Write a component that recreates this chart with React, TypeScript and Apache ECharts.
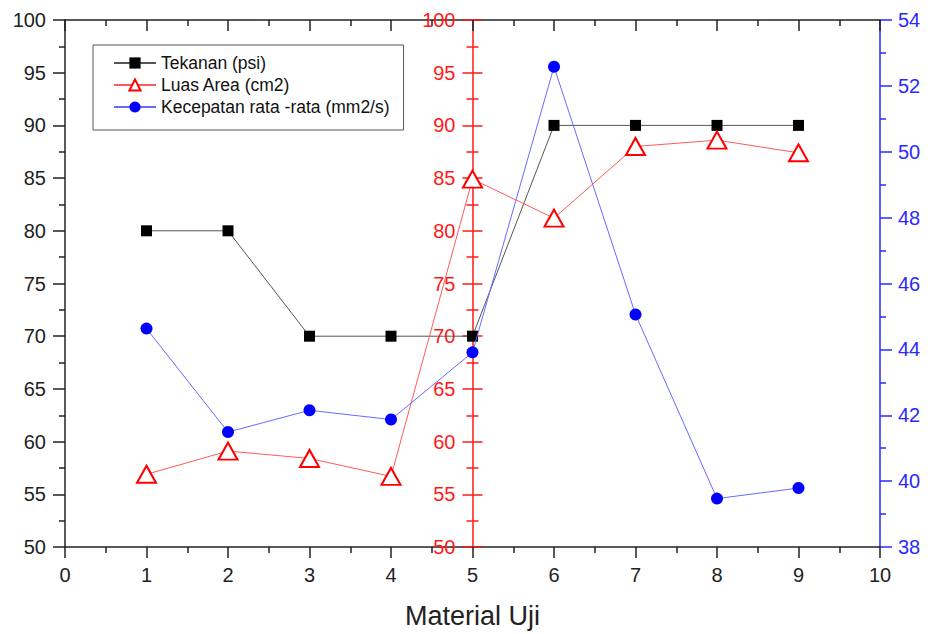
import React, { useEffect, useRef } from "react";
import * as echarts from "echarts";

const xValues = [1, 2, 3, 4, 5, 6, 7, 8, 9];
const tekanan = [80, 80, 70, 70, 70, 90, 90, 90, 90];
const luasArea = [56.9, 59.1, 58.4, 56.7, 84.9, 81.2, 88.0, 88.6, 87.4];
const kecepatan = [44.63, 41.49, 42.15, 41.87, 43.91, 52.58, 45.06, 39.47, 39.79];
const seriesNames = ["Tekanan (psi)", "Luas Area (cm2)", "Kecepatan rata -rata (mm2/s)"];
const xAxisName = "Material Uji";

const FONT = "Liberation Sans, Arial, sans-serif";
const RED = "#ff1a1a";
const BLUE = "#2a2aff";

export default function App() {
  const ref = useRef<HTMLDivElement>(null);
  useEffect(() => {
    if (!ref.current) return;
    const chart = echarts.init(ref.current, undefined, { renderer: "svg" });
    const pair = (ys: number[]) => xValues.map((x, i) => [x, ys[i]]);
    const baseY = {
      type: "value",
      min: 50,
      max: 100,
      interval: 5,
      splitLine: { show: false },
      minorTick: { show: true, splitNumber: 2 },
    };
    chart.setOption({
      animation: false,
      backgroundColor: "#ffffff",
      textStyle: { fontFamily: FONT },
      grid: { left: 65, right: 50, top: 20, bottom: 80, containLabel: false },
      legend: {
        orient: "vertical",
        left: 93,
        top: 45,
        padding: [9, 14, 14, 20],
        borderColor: "#555",
        borderWidth: 1,
        itemWidth: 42,
        itemHeight: 14,
        itemGap: 4,
        textStyle: { fontSize: 17.5, color: "#111", fontFamily: FONT, lineHeight: 18 },
        data: seriesNames,
      },
      xAxis: [
        {
          type: "value",
          min: 0,
          max: 10,
          interval: 1,
          position: "bottom",
          name: xAxisName,
          nameLocation: "middle",
          nameGap: 55,
          nameTextStyle: { fontSize: 27, color: "#222", fontFamily: FONT },
          axisLine: { lineStyle: { color: "#222", width: 1.5 } },
          axisTick: { length: 11, lineStyle: { color: "#222", width: 1.5 } },
          minorTick: { show: true, splitNumber: 2, length: 6, lineStyle: { color: "#222", width: 1.5 } },
          axisLabel: { fontSize: 20, color: "#222", margin: 18, fontFamily: FONT },
          splitLine: { show: false },
        },
        {
          type: "value",
          min: 0,
          max: 10,
          interval: 1,
          position: "top",
          axisLine: { lineStyle: { color: "#222", width: 1.5 } },
          axisTick: { inside: true, length: 11, lineStyle: { color: "#222", width: 1.5 } },
          minorTick: { show: true, splitNumber: 2, length: 6, lineStyle: { color: "#222", width: 1.5 } },
          axisLabel: { show: false },
          splitLine: { show: false },
        },
      ],
      yAxis: [
        {
          ...baseY,
          position: "left",
          axisLine: { show: true, lineStyle: { color: "#222", width: 1.5 } },
          axisTick: { length: 12, lineStyle: { color: "#222", width: 1.5 } },
          minorTick: { show: true, splitNumber: 2, length: 6, lineStyle: { color: "#222", width: 1.5 } },
          axisLabel: { fontSize: 20, color: "#222", margin: 19, fontFamily: FONT },
        },
        {
          ...baseY,
          position: "left",
          offset: -407.5,
          axisLine: { show: true, onZero: false, lineStyle: { color: RED, width: 1.5 } },
          axisTick: { length: 10, lineStyle: { color: RED, width: 1.5 } },
          minorTick: { show: true, splitNumber: 2, length: 6, lineStyle: { color: RED, width: 1.5 } },
          axisLabel: { fontSize: 20, color: RED, margin: 17, fontFamily: FONT },
        },
        {
          ...baseY,
          position: "left",
          offset: -407.5,
          axisLine: { show: false },
          axisTick: { inside: true, length: 10, lineStyle: { color: RED, width: 1.5 } },
          minorTick: { show: true, splitNumber: 2, length: 6, lineStyle: { color: RED, width: 1.5 } },
          axisLabel: { show: false },
        },
        {
          type: "value",
          min: 38,
          max: 54,
          interval: 2,
          position: "right",
          splitLine: { show: false },
          axisLine: { show: true, lineStyle: { color: BLUE, width: 1.5 } },
          axisTick: { length: 12, lineStyle: { color: BLUE, width: 1.5 } },
          minorTick: { show: true, splitNumber: 2, length: 6, lineStyle: { color: BLUE, width: 1.5 } },
          axisLabel: { fontSize: 20, color: BLUE, margin: 18, fontFamily: FONT },
        },
      ],
      series: [
        {
          name: seriesNames[0],
          type: "line",
          xAxisIndex: 0,
          yAxisIndex: 0,
          data: pair(tekanan),
          symbol: "rect",
          symbolSize: 11,
          lineStyle: { color: "#555", width: 1 },
          itemStyle: { color: "#000" },
          z: 3,
        },
        {
          name: seriesNames[1],
          type: "line",
          xAxisIndex: 0,
          yAxisIndex: 1,
          data: pair(luasArea),
          symbol: "emptyTriangle",
          symbolSize: [19, 17],
          lineStyle: { color: "#ff5a5a", width: 1 },
          itemStyle: { color: "#ff0000", borderColor: "#ff0000", borderWidth: 1.5 },
          z: 4,
        },
        {
          name: seriesNames[2],
          type: "line",
          xAxisIndex: 0,
          yAxisIndex: 3,
          data: pair(kecepatan),
          symbol: "circle",
          symbolSize: 12,
          lineStyle: { color: "#6a6aff", width: 1 },
          itemStyle: { color: "#0000ff" },
          z: 5,
        },
      ],
    });
    return () => chart.dispose();
  }, []);
  return (
    <div
      ref={ref}
      style={{ position: "fixed", left: 0, top: 0, width: 930, height: 634, background: "#fff" }}
    />
  );
}
